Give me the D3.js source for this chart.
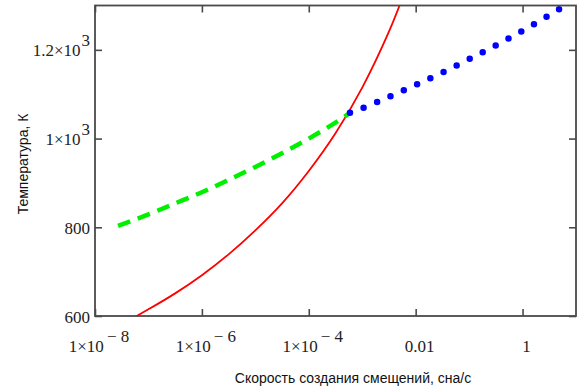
<!DOCTYPE html>
<html lang="ru">
<meta charset="utf-8"/>
<head>
<style>
	body { margin: 0; background-color: #FFFFFF; }
	.tick-label { font-family: "Liberation Serif", serif; font-size: 17px; fill: #222; }
	.axis-title { font-family: "Liberation Sans", Arial, sans-serif; font-size: 14px; fill: #111; }
</style>
</head>
<body>
<svg id="container" width="579" height="392"></svg>

<script src="https://d3js.org/d3.v7.min.js"></script>
<script>
	// rates (сна/с) and temperatures (K)
	let redRate = [4e-8, 1e-7, 3.16e-7, 1e-6, 3.16e-6, 1e-5, 3.16e-5, 1e-4, 3.16e-4, 1e-3, 3.16e-3, 6.3e-3]
	let redTemp = [588, 615, 651, 692, 739, 793, 854, 927, 1012, 1115, 1241, 1332]

	let greenRate = [2.7e-8, 1e-7, 3.16e-7, 1e-6, 3.16e-6, 1e-5, 3.16e-5, 1e-4, 3.16e-4, 5.9e-4]
	let greenTemp = [803, 829, 854, 879, 907, 936, 967, 1000, 1036, 1058]

	let blueRate = [5.9e-4, 1e-3, 3.16e-3, 1e-2, 3.16e-2, 0.1, 0.316, 1, 3.16, 10]
	let blueTemp = [1058, 1068, 1094, 1121, 1149, 1179, 1210, 1243, 1278, 1315]

	let xTicks = [1e-8, 1e-6, 1e-4, 1e-2, 1]
	let xTickBase = ["1×10", "1×10", "1×10", "0.01", "1"]
	let xTickSup = ["− 8", "− 6", "− 4", "", ""]

	let yTicks = [600, 800, 1000, 1200]
	let yTickBase = ["600", "800", "1×10", "1.2×10"]
	let yTickSup = ["", "", "3", "3"]

	let svg = d3.select("svg")
	let plotLeft = 95, plotRight = 576, plotTop = 5.5, plotBottom = 316
	let frameColor = "#4a4a4a"

	let xScale = d3.scaleLog().domain([1e-8, 10]).range([plotLeft, plotRight])
	let yScale = d3.scaleLinear().domain([600, 1300]).range([plotBottom, plotTop])

	svg.append("clipPath").attr("id", "plot-clip")
		.append("rect")
		.attr("x", plotLeft).attr("y", plotTop)
		.attr("width", plotRight - plotLeft).attr("height", plotBottom - plotTop)

	let line = d3.line()
		.x(d => xScale(d[0]))
		.y(d => yScale(d[1]))
		.curve(d3.curveCatmullRom)

	let plot = svg.append("g").attr("clip-path", "url(#plot-clip)")

	plot.append("path")
		.datum(d3.zip(redRate, redTemp))
		.attr("d", line)
		.attr("fill", "none")
		.attr("stroke", "#ff0000")
		.attr("stroke-width", 1.8)

	plot.append("path")
		.datum(d3.zip(greenRate, greenTemp))
		.attr("d", line)
		.attr("fill", "none")
		.attr("stroke", "#00f000")
		.attr("stroke-width", 4.5)
		.attr("stroke-dasharray", "13,8")

	plot.append("path")
		.datum(d3.zip(blueRate, blueTemp))
		.attr("d", line)
		.attr("fill", "none")
		.attr("stroke", "#0000ff")
		.attr("stroke-width", 6.5)
		.attr("stroke-linecap", "round")
		.attr("stroke-dasharray", "0,14.6")

	// ticks pointing inward on all four sides
	let axes = [
		{ axis: d3.axisBottom(xScale).tickValues(xTicks), pos: "translate(0," + plotBottom + ")" },
		{ axis: d3.axisTop(xScale).tickValues(xTicks), pos: "translate(0," + plotTop + ")" },
		{ axis: d3.axisLeft(yScale).tickValues(yTicks), pos: "translate(" + plotLeft + ",0)" },
		{ axis: d3.axisRight(yScale).tickValues(yTicks), pos: "translate(" + plotRight + ",0)" }
	]
	axes.forEach(a => {
		let g = svg.append("g")
			.attr("transform", a.pos)
			.call(a.axis.tickSizeInner(-7).tickSizeOuter(0).tickFormat(""))
		g.select(".domain").remove()
		g.selectAll(".tick line").attr("stroke", frameColor).attr("stroke-width", 1.6)
	})

	svg.append("rect")
		.attr("x", plotLeft).attr("y", plotTop)
		.attr("width", plotRight - plotLeft).attr("height", plotBottom - plotTop)
		.attr("fill", "none")
		.attr("stroke", frameColor)
		.attr("stroke-width", 1.8)

	// tick labels with Mathcad style superscripts
	xTicks.forEach((v, i) => {
		let t = svg.append("text")
			.attr("class", "tick-label")
			.attr("x", xScale(v) + 4)
			.attr("y", plotBottom + 36)
			.attr("text-anchor", "middle")
		t.append("tspan").text(xTickBase[i])
		if (xTickSup[i] != "") {
			t.append("tspan").attr("dx", 3).attr("dy", -10).text(xTickSup[i])
		}
	})

	yTicks.forEach((v, i) => {
		let t = svg.append("text")
			.attr("class", "tick-label")
			.attr("x", plotLeft - 5)
			.attr("y", yScale(v) + 6.5)
			.attr("text-anchor", "end")
		t.append("tspan").text(yTickBase[i])
		if (yTickSup[i] != "") {
			t.append("tspan").attr("dx", 1).attr("dy", -10).text(yTickSup[i])
		}
	})

	svg.append("text")
		.attr("class", "axis-title")
		.attr("x", 353)
		.attr("y", 383)
		.attr("text-anchor", "middle")
		.text("Скорость создания смещений, сна/с")

	svg.append("text")
		.attr("class", "axis-title")
		.attr("transform", "translate(28,164) rotate(-90)")
		.attr("text-anchor", "middle")
		.text("Температура, К")
</script>
</body>
</html>
